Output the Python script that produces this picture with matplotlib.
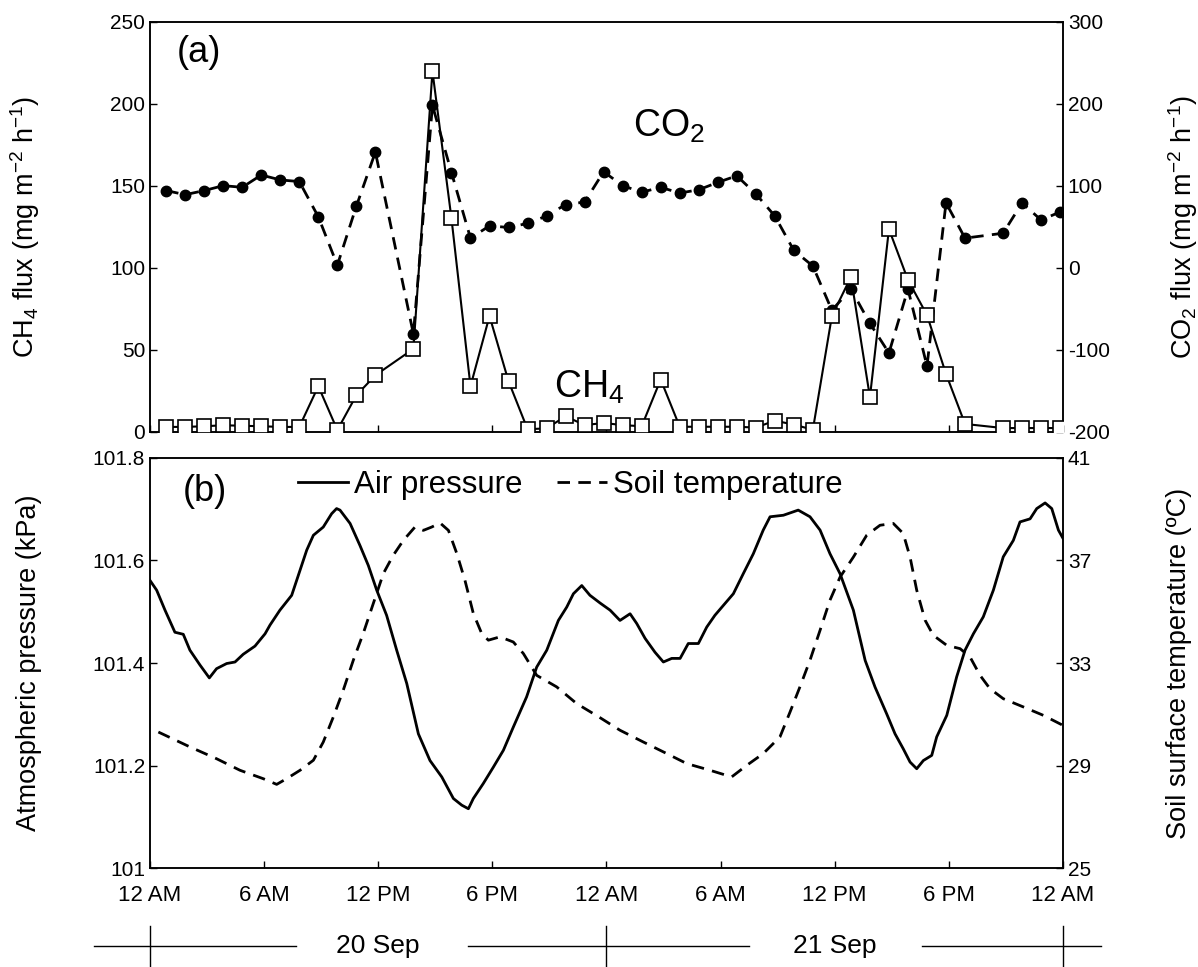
import numpy as np
import matplotlib
matplotlib.use("Agg")
import matplotlib.pyplot as plt
from matplotlib.lines import Line2D

plt.rcParams['font.family'] = ['Liberation Sans', 'DejaVu Sans']
plt.rcParams['mathtext.fontset'] = 'custom'
plt.rcParams['mathtext.rm'] = 'Liberation Sans'
plt.rcParams['mathtext.it'] = 'Liberation Sans:italic'
plt.rcParams['axes.unicode_minus'] = False

# --- panel (a): chamber fluxes, hourly (no sample at 13 h and 44 h) ---
hours = [1, 2, 3, 4, 5, 6, 7, 8, 9, 10, 11, 12, 14, 15, 16, 17, 18, 19, 20, 21, 22, 23, 24,
         25, 26, 27, 28, 29, 30, 31, 32, 33, 34, 35, 36, 37, 38, 39, 40, 41, 42, 43, 45, 46, 47, 48]
ch4 = [2.9, 2.9, 3.3, 3.9, 3.6, 3.3, 2.9, 2.9, 27.7, 1.0, 22.2, 34.4, 50.5, 219.8, 130.0, 27.7,
       70.5, 30.7, 1.5, 2.0, 9.4, 4.0, 5.3, 4.0, 3.3, 31.8, 3.0, 3.0, 3.0, 3.0, 2.5, 6.7, 4.3,
       1.2, 70.5, 94.3, 21.0, 123.5, 92.5, 71.1, 35.2, 4.7, 2.2, 2.2, 2.2, 2.2]
co2 = [94, 89, 94, 100, 98, 113, 107, 105, 62, 3, 75, 141, -81, 198, 116, 36, 51, 49, 54, 63,
       77, 80, 117, 100, 92, 98, 91, 95, 104, 112, 90, 63, 21, 2, -52, -26, -68, -104, -26,
       -120, 79, 36, 42, 79, 58, 68]

# --- panel (b): air pressure and soil surface temperature ---
p_time = [0, 0.35, 0.79, 1.31, 1.75, 2.1, 2.63, 3.12, 3.5, 4.03, 4.47, 4.9, 5.52, 6.05, 6.31,
          6.83, 7.45, 7.89, 8.24, 8.59, 9.11, 9.55, 9.81, 9.99, 10.52, 11.04, 11.48, 11.92,
          12.44, 12.97, 13.5, 14.11, 14.72, 15.34, 15.95, 16.39, 16.74, 17.0, 17.52, 18.05,
          18.58, 19.1, 19.8, 20.33, 20.86, 21.47, 21.91, 22.26, 22.7, 23.13, 23.66, 24.19,
          24.71, 25.24, 25.59, 26.03, 26.55, 26.99, 27.43, 27.87, 28.3, 28.83, 29.27, 29.7,
          30.23, 30.67, 31.19, 31.72, 32.24, 32.6, 33.3, 34.08, 34.7, 35.23, 35.75, 36.28,
          36.98, 37.6, 38.12, 38.73, 39.17, 39.6, 39.96, 40.31, 40.66, 41.1, 41.36, 41.89,
          42.41, 42.85, 43.29, 43.81, 44.34, 44.86, 45.39, 45.74, 46.27, 46.62, 47.06, 47.41,
          47.76, 48]
pressure = [101.561, 101.542, 101.503, 101.460, 101.456, 101.425, 101.396, 101.371, 101.389,
            101.399, 101.402, 101.417, 101.433, 101.457, 101.474, 101.503, 101.532, 101.581,
            101.620, 101.649, 101.665, 101.691, 101.701, 101.698, 101.672, 101.629, 101.590,
            101.542, 101.493, 101.425, 101.360, 101.262, 101.210, 101.178, 101.136, 101.123,
            101.116, 101.136, 101.165, 101.197, 101.230, 101.275, 101.334, 101.392, 101.425,
            101.483, 101.509, 101.535, 101.551, 101.532, 101.517, 101.503, 101.483, 101.496,
            101.477, 101.448, 101.421, 101.402, 101.409, 101.409, 101.438, 101.438, 101.470,
            101.493, 101.516, 101.535, 101.574, 101.613, 101.659, 101.685, 101.688, 101.698,
            101.685, 101.659, 101.613, 101.574, 101.503, 101.405, 101.353, 101.301, 101.262,
            101.233, 101.207, 101.194, 101.210, 101.220, 101.256, 101.298, 101.373, 101.425,
            101.457, 101.490, 101.542, 101.607, 101.639, 101.675, 101.681, 101.701, 101.712,
            101.701, 101.659, 101.643]
t_time = [0.44, 2.1, 3.5, 4.73, 5.96, 6.66, 7.18, 7.89, 8.59, 9.11, 9.64, 10.16, 10.69, 11.21,
          11.74, 12.27, 12.79, 13.32, 13.93, 14.37, 14.81, 15.25, 15.69, 16.13, 16.56, 17.0,
          17.44, 17.79, 18.4, 19.1, 19.63, 20.33, 21.38, 22.43, 23.66, 24.71, 25.94, 27.17,
          28.22, 29.44, 30.58, 31.37, 32.24, 33.12, 33.65, 34.17, 34.7, 35.23, 35.75, 36.28,
          36.98, 37.68, 38.38, 39.08, 39.6, 39.96, 40.31, 40.75, 41.18, 41.89, 42.59, 43.11,
          43.64, 44.16, 44.86, 45.91, 46.97, 48]
soil_temp = [30.31, 29.73, 29.27, 28.82, 28.49, 28.27, 28.49, 28.82, 29.21, 29.92, 30.90, 31.94,
             33.11, 34.15, 35.32, 36.49, 37.20, 37.78, 38.30, 38.17, 38.30, 38.46, 38.17, 37.27,
             36.22, 34.93, 34.15, 33.89, 34.02, 33.82, 33.37, 32.52, 32.07, 31.42, 30.87, 30.38,
             29.92, 29.47, 29.08, 28.82, 28.56, 29.01, 29.47, 30.12, 31.09, 32.07, 33.11, 34.28,
             35.45, 36.35, 37.13, 37.98, 38.37, 38.44, 38.05, 37.13, 35.84, 34.67, 34.08, 33.69,
             33.56, 33.24, 32.52, 32.00, 31.61, 31.29, 30.96, 30.57]

xticks = [0, 6, 12, 18, 24, 30, 36, 42, 48]
xticklabels = ['12 AM', '6 AM', '12 PM', '6 PM', '12 AM', '6 AM', '12 PM', '6 PM', '12 AM']
days = ['20 Sep', '21 Sep']

# samples were taken a few minutes before the full hour
t = np.array(hours) - 0.15

fig = plt.figure(figsize=(11.98, 9.67), dpi=100)
ax1 = fig.add_axes([0.1252, 0.5536, 0.7621, 0.4240])
ax2 = ax1.twinx()
ax3 = fig.add_axes([0.1252, 0.1021, 0.7621, 0.4245])
ax4 = ax3.twinx()

tick_kw = dict(direction='in', length=5, width=1, labelsize=15)
for a in (ax1, ax2, ax3, ax4):
    for s in a.spines.values():
        s.set_linewidth(1.1)
    a.tick_params(**tick_kw)
    a.set_xlim(0, 48)
    a.set_xticks(xticks)

# (a)
ax2.plot(t, co2, color='black', lw=2, dashes=(4.5, 3), marker='o', ms=7.5,
         markerfacecolor='black', zorder=2)
ax1.plot(t, ch4, color='black', lw=1.5, marker='s', ms=10, markerfacecolor='white',
         markeredgecolor='black', markeredgewidth=1.2, zorder=3)
ax1.set_zorder(ax2.get_zorder() + 1)
ax1.patch.set_visible(False)
ax1.set_ylim(0, 250)
ax1.set_yticks([0, 50, 100, 150, 200, 250])
ax2.set_ylim(-200, 300)
ax2.set_yticks([-200, -100, 0, 100, 200, 300])
ax1.set_xticklabels([])
ax1.set_ylabel('CH$_4$ flux (mg m$^{-2}$ h$^{-1}$)', fontsize=19.5)
ax2.set_ylabel('CO$_2$ flux (mg m$^{-2}$ h$^{-1}$)', fontsize=19.5)
ax1.yaxis.set_label_coords(-0.118, 0.5)
ax2.yaxis.set_label_coords(1.113, 0.5)
ax1.text(0.054, 0.925, '(a)', transform=ax1.transAxes, fontsize=26, ha='center', va='center')
ax1.text(27.3, 186, 'CO$_2$', fontsize=27, ha='center', va='center')
ax1.text(23.1, 27, 'CH$_4$', fontsize=27, ha='center', va='center')

# (b)
l1, = ax3.plot(p_time, pressure, color='black', lw=2, label='Air pressure')
l2, = ax4.plot(t_time, soil_temp, color='black', lw=2, dashes=(4.5, 3),
               label='Soil temperature')
ax3.set_ylim(101, 101.8)
ax3.set_yticks([101, 101.2, 101.4, 101.6, 101.8])
ax3.set_yticklabels(['101', '101.2', '101.4', '101.6', '101.8'])
ax4.set_ylim(25, 41)
ax4.set_yticks([25, 29, 33, 37, 41])
ax3.set_xticklabels(xticklabels)
ax3.tick_params(axis='x', pad=12, labelsize=16)
ax3.set_ylabel('Atmospheric pressure (kPa)', fontsize=19.5)
ax4.set_ylabel('Soil surface temperature (ºC)', fontsize=19.5)
ax3.yaxis.set_label_coords(-0.118, 0.5)
ax4.yaxis.set_label_coords(1.113, 0.5)
ax3.text(0.06, 0.918, '(b)', transform=ax3.transAxes, fontsize=26, ha='center', va='center')
ax3.legend(handles=[l1, l2], loc='center', bbox_to_anchor=(0.4606, 0.933), ncol=2,
           frameon=False, fontsize=22.5, handlelength=1.6, handletextpad=0.2,
           columnspacing=1.1, borderpad=0)

# date strip below the time axis
axd = fig.add_axes([0.1252, 0.0, 0.7621, 0.0424])
axd.set_xlim(0, 48)
axd.set_ylim(0, 1)
axd.axis('off')
for x0, x1 in [(-2.95, 7.7), (16.7, 31.5), (40.6, 50.0)]:
    axd.add_line(Line2D([x0, x1], [0.52, 0.52], color='black', lw=1, clip_on=False))
for xv in [0, 24, 48]:
    axd.add_line(Line2D([xv, xv], [0, 1], color='black', lw=1, clip_on=False))
for xc, d in zip([12, 36], days):
    axd.text(xc, 0.52, d, fontsize=19, ha='center', va='center')

fig.savefig('out.png', dpi=100)
